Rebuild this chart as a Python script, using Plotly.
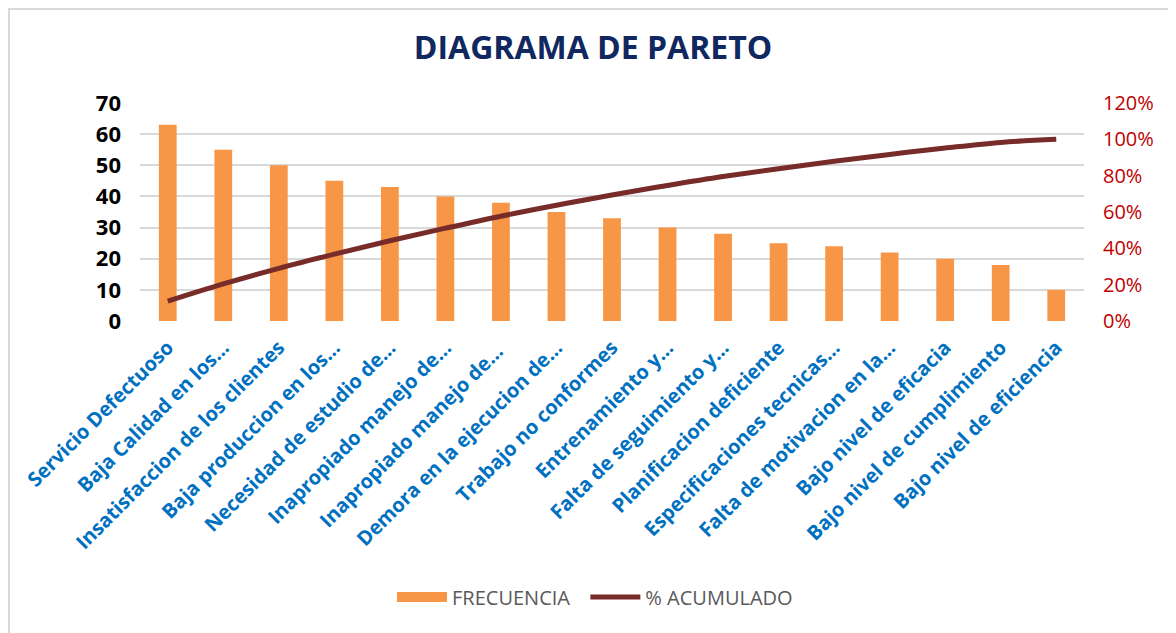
import plotly.graph_objects as go

categorias = [
    "Servicio Defectuoso",
    "Baja Calidad en los…",
    "Insatisfaccion de los clientes",
    "Baja produccion en los…",
    "Necesidad de estudio de…",
    "Inapropiado manejo de…",
    "Inapropiado manejo de… ",
    "Demora en la ejecucion de…",
    "Trabajo no conformes",
    "Entrenamiento y…",
    "Falta de seguimiento y…",
    "Planificacion deficiente",
    "Especificaciones tecnicas…",
    "Falta de motivacion en la…",
    "Bajo nivel de eficacia",
    "Bajo nivel de cumplimiento",
    "Bajo nivel de eficiencia",
]
frecuencia = [63, 55, 50, 45, 43, 40, 38, 35, 33, 30, 28, 25, 24, 22, 20, 18, 10]
acumulado = [0.109, 0.204, 0.290, 0.368, 0.442, 0.511, 0.577, 0.637, 0.694,
             0.746, 0.795, 0.838, 0.879, 0.917, 0.952, 0.983, 1.000]

left_ticks = [0, 10, 20, 30, 40, 50, 60, 70]
right_ticks = [0, 0.2, 0.4, 0.6, 0.8, 1.0, 1.2]
right_labels = ["0%", "20%", "40%", "60%", "80%", "100%", "120%"]

BAR_COLOR = "#F79646"
LINE_COLOR = "#772C2A"

fig = go.Figure()
fig.add_trace(go.Bar(
    x=categorias, y=frecuencia, name="FRECUENCIA", showlegend=False, legendgroup="f",
    marker=dict(color=BAR_COLOR, line=dict(width=0)),
))
# legend swatch for the bars (wide rectangle like the original)
fig.add_trace(go.Scatter(
    x=[None], y=[None], name="FRECUENCIA&nbsp;&nbsp;", legendgroup="f", mode="lines",
    line=dict(color=BAR_COLOR, width=12),
))
fig.add_trace(go.Scatter(
    x=categorias, y=acumulado, name="% ACUMULADO", yaxis="y2",
    mode="lines", line=dict(color=LINE_COLOR, width=5, shape="spline"),
))

FW, FH = 1168, 625
L, R, T = 132, 92, 95
PB = 313
B = FH - PB
W, H = FW - L - R, PB - T

fig.update_layout(
    width=FW, height=FH,
    margin=dict(l=L, r=R, t=T, b=B),
    paper_bgcolor="white", plot_bgcolor="white",
    bargap=0.68,
    font=dict(family="Open Sans, sans-serif"),
    title=dict(text="<b>DIAGRAMA DE PARETO</b>", x=585 / FW, xanchor="center",
               y=1 - 40 / FH, yanchor="middle",
               font=dict(size=32, color="#10285F", family="Open Sans, sans-serif")),
    xaxis=dict(tickangle=-45,
               tickfont=dict(size=20, color="#0070C0", family="Open Sans, sans-serif", weight="bold"),
               showgrid=False, showline=False, ticks="", ticklabelstandoff=10),
    yaxis=dict(range=[0, 70], tickvals=left_ticks, showgrid=True, gridcolor="#D9D9D9", gridwidth=2,
               zeroline=False, showline=False, ticklabelstandoff=18,
               tickfont=dict(size=22, color="#000000", weight="bold")),
    yaxis2=dict(range=[0, 1.2], tickvals=right_ticks, ticktext=right_labels, overlaying="y", side="right",
                showgrid=False, zeroline=False, showline=False, ticklabelstandoff=18,
                tickfont=dict(size=20, color="#C00000")),
    legend=dict(orientation="h", x=(587 - L) / W, xanchor="center", y=(PB - 589) / H, yanchor="middle",
                font=dict(size=20, color="#595959"), itemwidth=50),
    shapes=[dict(type="rect", xref="paper", yref="paper",
                 x0=(1 - L) / W, x1=(FW + 10 - L) / W, y0=(PB - FH - 10) / H, y1=(PB - 1) / H,
                 line=dict(color="#D9D9D9", width=2), fillcolor="rgba(0,0,0,0)", layer="below")],
)

fig.write_html("out.html")
